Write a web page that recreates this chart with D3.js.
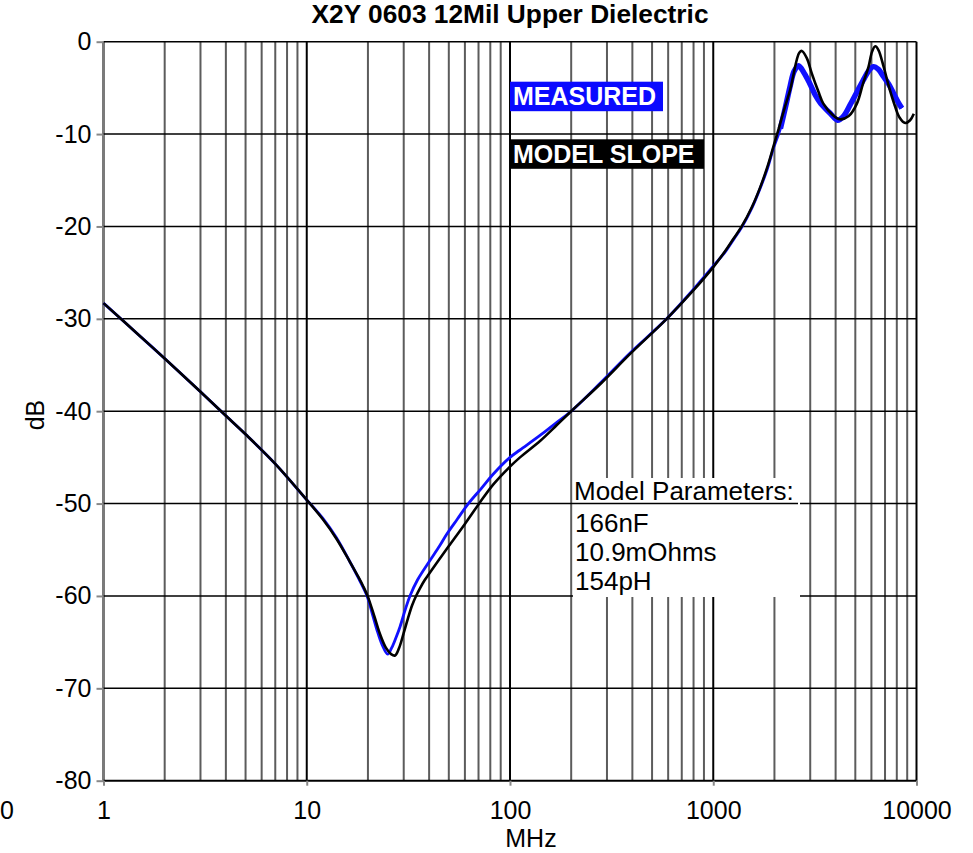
<!DOCTYPE html>
<html>
<head>
<meta charset="utf-8">
<script src="https://cdn.jsdelivr.net/npm/d3@7"></script>
<style>
  body { margin: 0; background: #fff; }
  svg { display: block; font-family: "Liberation Sans", Arial, sans-serif; }
</style>
</head>
<body>
<svg width="973" height="853"></svg>
<script>
// Axis ticks
const xTickValues = [1, 10, 100, 1000, 10000];
const yTickValues = [0, -10, -20, -30, -40, -50, -60, -70, -80];

// Model slope curve (MHz, dB)
const modelFreq = [1, 1.5, 2, 3, 4, 5, 7, 10, 12, 14, 16.3, 18, 19, 20, 21.5, 22.9, 24.5, 26, 27.2, 28.5, 30, 31.5, 33, 34.5, 36, 38, 40, 45, 50, 60, 71, 83, 100, 112, 141, 170, 200, 280, 390, 590, 800, 1000, 1150, 1260, 1380, 1550, 1700, 1850, 1980, 2100, 2250, 2390, 2480, 2580, 2650, 2730, 2890, 3050, 3290, 3480, 3860, 4210, 4640, 5090, 5460, 5810, 6040, 6270, 6500, 6890, 7280, 7710, 8250, 8810, 9300, 9700];
const modelDb = [-28.3, -31.8, -34.3, -37.9, -40.5, -42.5, -45.7, -49.6, -51.7, -53.8, -56.3, -58.0, -59.0, -60.1, -62.2, -64.1, -65.6, -66.3, -66.45, -65.6, -64.0, -62.4, -61.0, -60.0, -59.2, -58.3, -57.6, -56.0, -54.6, -52.2, -49.9, -47.9, -46.0, -45.0, -43.2, -41.5, -40.0, -37.0, -33.8, -30.0, -26.9, -24.4, -22.6, -21.3, -20.0, -17.9, -15.8, -13.5, -11.3, -9.4, -7.1, -5.2, -3.6, -1.9, -1.2, -1.0, -1.8, -3.4, -5.4, -6.7, -7.9, -8.4, -8.05, -6.7, -4.5, -2.7, -1.1, -0.5, -0.9, -2.7, -4.7, -6.5, -8.2, -8.8, -8.5, -7.8];

// Measured curve (MHz, dB)
const measFreq = [1, 1.5, 2, 3, 4, 5, 7, 10, 12, 14, 16.3, 18, 19.8, 21, 22.1, 23.5, 25, 26.2, 27.5, 28.8, 30.5, 32.2, 35, 40, 45, 48.9, 55, 62.4, 72, 82.8, 100, 112, 141, 170, 200, 280, 390, 590, 800, 1000, 1150, 1260, 1380, 1550, 1700, 1850, 1980, 2140, 2270, 2390, 2500, 2630, 2800, 2980, 3180, 3380, 3780, 4090, 4400, 4700, 5080, 5460, 5800, 6130, 6500, 6890, 7300, 7710, 8100, 8470];
const measDb = [-28.3, -31.8, -34.3, -37.9, -40.5, -42.5, -45.7, -49.6, -51.6, -53.7, -56.3, -58.1, -60.0, -61.9, -63.6, -65.3, -66.3, -65.6, -64.5, -63.3, -61.5, -60.0, -58.3, -56.3, -54.6, -53.3, -51.7, -50.0, -48.4, -46.8, -45.0, -44.2, -42.6, -41.2, -40.0, -36.9, -33.7, -30.0, -26.8, -24.3, -22.7, -21.4, -20.1, -18.0, -15.9, -13.7, -11.5, -9.4, -7.0, -4.8, -3.2, -2.6, -3.4, -4.5, -5.8, -6.7, -7.8, -8.5, -8.0, -6.9, -5.5, -4.2, -3.2, -2.7, -3.0, -3.8, -4.6, -5.6, -6.5, -7.2];

const paramLines = ["166nF", "10.9mOhms", "154pH"];

const svg = d3.select("svg");
const x = d3.scaleLog().domain([1, 10000]).range([103.5, 916.5]);
const y = d3.scaleLinear().domain([-80, 0]).range([780.7, 41.7]);

const isDecade = v => Math.abs(Math.log10(v) - Math.round(Math.log10(v))) < 1e-9;

// Vertical grid
svg.append("g").selectAll("line")
  .data(x.ticks())
  .enter().append("line")
  .attr("x1", d => x(d)).attr("x2", d => x(d))
  .attr("y1", y(0)).attr("y2", y(-80))
  .attr("stroke", d => d === 1 ? "#7a7a7a" : (isDecade(d) ? "#000" : "#5c5c5c"))
  .attr("stroke-width", d => d === 1 ? 3 : 2);

// Horizontal grid
svg.append("g").selectAll("line")
  .data(yTickValues)
  .enter().append("line")
  .attr("x1", x(1)).attr("x2", x(10000))
  .attr("y1", d => y(d)).attr("y2", d => y(d))
  .attr("stroke", "#000")
  .attr("stroke-width", d => d === -80 ? 2 : 1.5);

// Axes (ticks and labels)
const yAxis = svg.append("g")
  .attr("transform", `translate(${x(1)},0)`)
  .call(d3.axisLeft(y).tickValues(yTickValues).tickSize(7).tickPadding(5).tickFormat(d => String(d)));
const xAxis = svg.append("g")
  .attr("transform", `translate(0,${y(-80)})`)
  .call(d3.axisBottom(x).tickValues(xTickValues).tickSize(5).tickPadding(16).tickFormat(d => String(d)));
[yAxis, xAxis].forEach(g => {
  g.select(".domain").remove();
  g.selectAll(".tick line").attr("stroke", "#888").attr("stroke-width", 2);
  g.selectAll(".tick text").attr("fill", "#000").style("font-size", "25px");
});

// Parameters box
svg.append("rect")
  .attr("x", 573).attr("y", 478).attr("width", 227).attr("height", 119)
  .attr("fill", "#fff");
svg.append("text")
  .attr("x", 574).attr("y", 500)
  .style("font-size", "26px")
  .text("Model Parameters:");
svg.append("line")
  .attr("x1", 573).attr("x2", 798).attr("y1", 503.5).attr("y2", 503.5)
  .attr("stroke", "#000").attr("stroke-width", 1.5);
svg.append("g").selectAll("text")
  .data(paramLines)
  .enter().append("text")
  .attr("x", 575)
  .attr("y", (d, i) => 531.5 + i * 29.2)
  .style("font-size", "26px")
  .text(d => d);

// Legend boxes
const legend = [
  { label: "MEASURED", color: "#0a0aff", y: 81.7, w: 153 },
  { label: "MODEL SLOPE", color: "#000", y: 139.3, w: 194 }
];
legend.forEach(l => {
  svg.append("rect")
    .attr("x", 510).attr("y", l.y).attr("width", l.w).attr("height", 29.5)
    .attr("fill", l.color);
  svg.append("text")
    .attr("x", 513).attr("y", l.y + 23.5)
    .attr("fill", "#fff")
    .style("font-size", "25px").style("font-weight", "bold")
    .text(l.label);
});

// Curves
const line = d3.line()
  .x(d => x(d[0]))
  .y(d => y(d[1]))
  .curve(d3.curveCatmullRom.alpha(0.5));

const measured = measFreq.map((f, i) => [f, measDb[i]]);
const model = modelFreq.map((f, i) => [f, modelDb[i]]);

svg.append("path")
  .datum(measured)
  .attr("d", line)
  .attr("fill", "none").attr("stroke", "#1010ff").attr("stroke-width", 2.8);
svg.append("path")
  .datum(measured.filter(d => d[0] >= 2100))
  .attr("d", line)
  .attr("fill", "none").attr("stroke", "#1010ff").attr("stroke-width", 5.5);
svg.append("path")
  .datum(model)
  .attr("d", line)
  .attr("fill", "none").attr("stroke", "#000").attr("stroke-width", 2.6);

// Titles
svg.append("text")
  .attr("x", 311.5).attr("y", 22.5)
  .attr("textLength", 397).attr("lengthAdjust", "spacingAndGlyphs")
  .style("font-size", "25px").style("font-weight", "bold")
  .text("X2Y 0603 12Mil Upper Dielectric");
svg.append("text")
  .attr("transform", "translate(44,415) rotate(-90)")
  .attr("text-anchor", "middle")
  .style("font-size", "25px")
  .text("dB");
svg.append("text")
  .attr("x", 531).attr("y", 847)
  .attr("text-anchor", "middle")
  .style("font-size", "25px")
  .text("MHz");
svg.append("text")
  .attr("x", 7).attr("y", 819)
  .attr("text-anchor", "middle")
  .style("font-size", "25px")
  .text("0");
</script>
</body>
</html>
